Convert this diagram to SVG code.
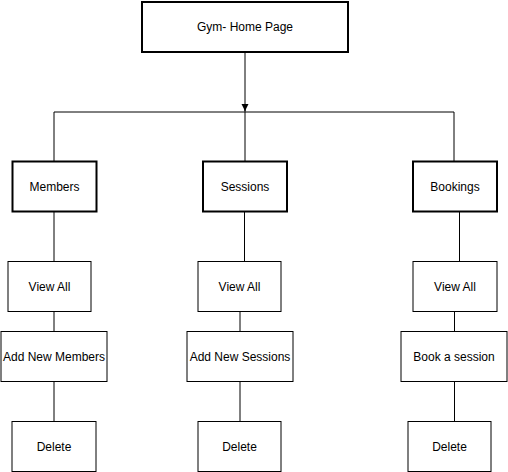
<svg xmlns="http://www.w3.org/2000/svg" width="508" height="472" viewBox="0 0 508 472">
<style>
.box{fill:#fff;stroke:#000;stroke-width:1}
.main{fill:#fff;stroke:#000;stroke-width:2}
.lbl{font-family:"Liberation Sans",Arial,sans-serif;font-size:12px;fill:#000;text-anchor:middle;dominant-baseline:central}
.ln{fill:none;stroke:#000;stroke-width:1}
</style>
<defs>
<marker id="arr" markerWidth="8" markerHeight="8" refX="7" refY="4" orient="auto" markerUnits="userSpaceOnUse">
<path d="M0,0.5 L7,4 L0,7.5 Z" fill="#000"/>
</marker>
</defs>
<rect width="508" height="472" fill="#fff"/>
<g id="connectors">
<line class="ln" x1="245" y1="52" x2="245" y2="111" marker-end="url(#arr)"/>
<line class="ln" x1="54" y1="112" x2="454" y2="112"/>
<line class="ln" x1="54" y1="112" x2="54" y2="161"/>
<line class="ln" x1="245" y1="105" x2="245" y2="161"/>
<line class="ln" x1="454" y1="112" x2="454" y2="161"/>
<line class="ln" x1="54" y1="211" x2="54" y2="262"/>
<line class="ln" x1="54" y1="311" x2="54" y2="331"/>
<line class="ln" x1="54" y1="381" x2="54" y2="422"/>
<line class="ln" x1="244.5" y1="211" x2="244.5" y2="262"/>
<line class="ln" x1="240" y1="311" x2="240" y2="331"/>
<line class="ln" x1="240" y1="381" x2="240" y2="422"/>
<line class="ln" x1="459.5" y1="211" x2="459.5" y2="262"/>
<line class="ln" x1="454.5" y1="311" x2="454.5" y2="331"/>
<line class="ln" x1="454.5" y1="381" x2="454.5" y2="422"/>
</g>
<g id="home"><rect class="main" x="142" y="2" width="206" height="50"/><text class="lbl" x="245" y="27">Gym- Home Page</text></g>
<g id="members"><rect class="main" x="12.5" y="161.5" width="84" height="50"/><text class="lbl" x="54.5" y="186.5">Members</text></g>
<g id="sessions"><rect class="main" x="203" y="161.5" width="84" height="50"/><text class="lbl" x="245" y="186.5">Sessions</text></g>
<g id="bookings"><rect class="main" x="413" y="161.5" width="84" height="50"/><text class="lbl" x="455" y="186.5">Bookings</text></g>
<g id="members-view"><rect class="box" x="8" y="261.5" width="83" height="50"/><text class="lbl" x="49.5" y="286.5">View All</text></g>
<g id="members-add"><rect class="box" x="1" y="331.5" width="106" height="50"/><text class="lbl" x="54" y="356.5">Add New Members</text></g>
<g id="members-delete"><rect class="box" x="12" y="421.5" width="84" height="50"/><text class="lbl" x="54" y="446.5">Delete</text></g>
<g id="sessions-view"><rect class="box" x="198" y="261.5" width="83" height="50"/><text class="lbl" x="239.5" y="286.5">View All</text></g>
<g id="sessions-add"><rect class="box" x="187" y="331.5" width="106" height="50"/><text class="lbl" x="240" y="356.5">Add New Sessions</text></g>
<g id="sessions-delete"><rect class="box" x="198" y="421.5" width="83" height="50"/><text class="lbl" x="239.5" y="446.5">Delete</text></g>
<g id="bookings-view"><rect class="box" x="413" y="261.5" width="84" height="50"/><text class="lbl" x="455" y="286.5">View All</text></g>
<g id="bookings-book"><rect class="box" x="401" y="331.5" width="106" height="50"/><text class="lbl" x="454" y="356.5">Book a session</text></g>
<g id="bookings-delete"><rect class="box" x="408" y="421.5" width="83" height="50"/><text class="lbl" x="449.5" y="446.5">Delete</text></g>
</svg>
